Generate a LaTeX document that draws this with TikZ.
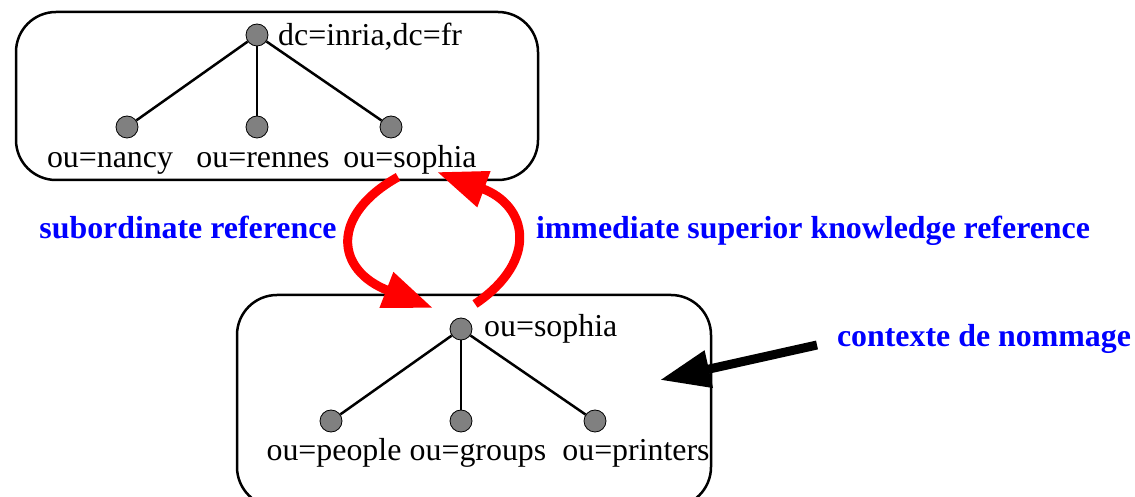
\documentclass[tikz,border=0pt]{standalone}
\usepackage{fontspec}
\setmainfont{Liberation Serif}
\usetikzlibrary{arrows.meta}
\tikzset{
  entry/.style={circle,draw=black,fill=gray,minimum size=22bp,inner sep=0pt,line width=0.8bp},
  dn/.style={inner sep=0pt,font=\fontsize{32}{38}\selectfont},
  refname/.style={inner sep=0pt,text=blue,font=\fontsize{32}{38}\selectfont\bfseries},
  ctxbox/.style={draw=black,rectangle,line width=2.5bp,rounded corners=40bp,inner sep=0pt},
  edge/.style={line width=2.5bp},
  ref/.style={red,line width=9bp},
}
\begin{document}
\begin{tikzpicture}[>={Triangle[length=50bp,width=36bp]},line join=bevel,]
%%
\useasboundingbox (0bp,0bp) rectangle (1135bp,497bp);
\clip (0bp,0bp) rectangle (1135bp,497bp);
\node (upper_ctx) at (277bp,401bp) [ctxbox,minimum width=522bp,minimum height=168bp] {};
  \node (lower_ctx) at (474bp,96bp) [ctxbox,minimum width=474bp,minimum height=212bp] {};
  \node (dc_inria) at (257bp,462bp) [entry] {};
  \node (ou_nancy) at (127bp,370bp) [entry] {};
  \node (ou_rennes) at (257bp,370bp) [entry] {};
  \node (ou_sophia) at (391bp,370bp) [entry] {};
  \node (sub_sophia) at (461bp,168bp) [entry] {};
  \node (ou_people) at (331bp,76bp) [entry] {};
  \node (ou_groups) at (461bp,76bp) [entry] {};
  \node (ou_printers) at (595bp,76bp) [entry] {};
  \node (dc_inria_txt) at (278bp,451bp) [dn,anchor=base west] {dc=inria,dc=fr};
  \node (ou_nancy_txt) at (110bp,329bp) [dn,anchor=base] {ou=nancy};
  \node (ou_rennes_txt) at (263bp,329bp) [dn,anchor=base] {ou=rennes};
  \node (ou_sophia_txt) at (410bp,329bp) [dn,anchor=base] {ou=sophia};
  \node (sub_sophia_txt) at (484bp,160bp) [dn,anchor=base west] {ou=sophia};
  \node (ou_people_txt) at (334bp,37bp) [dn,anchor=base] {ou=people};
  \node (ou_groups_txt) at (478bp,37bp) [dn,anchor=base] {ou=groups};
  \node (ou_printers_txt) at (636bp,37bp) [dn,anchor=base] {ou=printers};
  \node (subref) at (188bp,258bp) [refname,anchor=base] {subordinate reference};
  \node (supref) at (813bp,258bp) [refname,anchor=base] {immediate superior knowledge reference};
  \node (ctx) at (984bp,150bp) [refname,anchor=base] {contexte de nommage};
  \coordinate (subref_from) at (398bp,320bp);
  \coordinate (subref_to) at (433bp,189bp);
  \coordinate (supref_from) at (475bp,193bp);
  \coordinate (supref_to) at (437bp,325bp);
  \coordinate (ctx_from) at (817bp,152bp);
  \coordinate (ctx_to) at (660bp,117bp);
  \draw [edge] (dc_inria) -- (ou_nancy);
  \draw [edge] (dc_inria) -- (ou_rennes);
  \draw [edge] (dc_inria) -- (ou_sophia);
  \draw [edge] (sub_sophia) -- (ou_people);
  \draw [edge] (sub_sophia) -- (ou_groups);
  \draw [edge] (sub_sophia) -- (ou_printers);
  \draw [ref,->] (subref_from) .. controls (330bp,282bp) and (335bp,227bp) .. (subref_to);
  \draw [ref,->] (supref_from) .. controls (540bp,237bp) and (527bp,292bp) .. (supref_to);
  \draw [black,line width=9bp,->] (ctx_from) -- (ctx_to);
%
\end{tikzpicture}
\end{document}
